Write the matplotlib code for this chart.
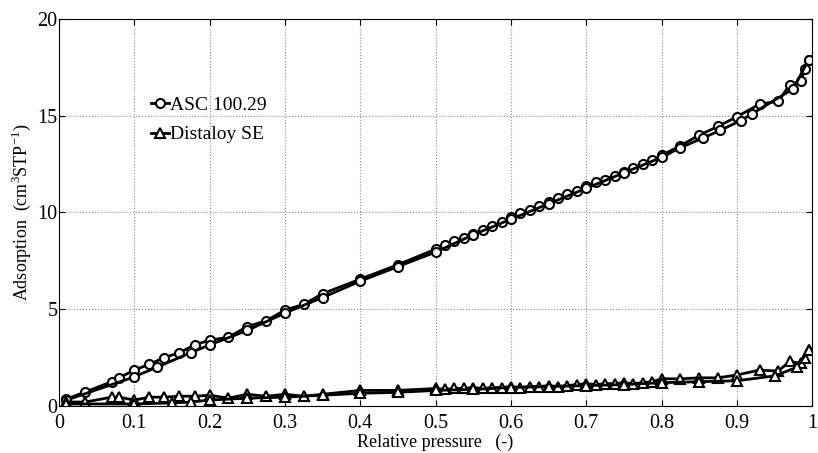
import numpy as np
import matplotlib; matplotlib.use("Agg")
import matplotlib.pyplot as plt
from matplotlib.lines import Line2D

plt.rcParams["font.family"] = ["Liberation Serif", "DejaVu Serif"]
plt.rcParams["mathtext.fontset"] = "custom"
plt.rcParams["mathtext.rm"] = "Liberation Serif"

# ASC 100.29 - adsorption branch (dense) and desorption branch
asc_ads_p = [0.01, 0.035, 0.07, 0.08, 0.10, 0.12, 0.14, 0.16, 0.18, 0.20, 0.225, 0.25, 0.275, 0.30,
             0.325, 0.35, 0.40, 0.45, 0.50, 0.5125, 0.525, 0.5375, 0.55, 0.5625, 0.575, 0.5875, 0.60,
             0.6125, 0.625, 0.6375, 0.65, 0.6625, 0.675, 0.6875, 0.70, 0.7125, 0.725, 0.7375, 0.75,
             0.7625, 0.775, 0.7875, 0.80, 0.825, 0.85, 0.875, 0.90, 0.93, 0.955, 0.97, 0.985, 0.99, 0.995]
asc_ads_v = [0.35, 0.72, 1.25, 1.45, 1.85, 2.15, 2.5, 2.75, 3.15, 3.4, 3.55, 4.1, 4.4, 4.95,
             5.25, 5.8, 6.55, 7.3, 8.1, 8.3, 8.5, 8.7, 8.9, 9.1, 9.3, 9.5, 9.75,
             9.95, 10.15, 10.35, 10.55, 10.75, 10.95, 11.1, 11.35, 11.55, 11.7, 11.9, 12.1,
             12.3, 12.5, 12.7, 12.95, 13.45, 14.0, 14.45, 14.95, 15.6, 15.75, 16.6, 16.8, 17.4, 17.9]
asc_des_p = [0.01, 0.10, 0.13, 0.175, 0.20, 0.25, 0.30, 0.35, 0.40, 0.45, 0.50, 0.55, 0.60, 0.65,
             0.70, 0.75, 0.80, 0.825, 0.855, 0.878, 0.905, 0.92, 0.975, 0.995]
asc_des_v = [0.3, 1.5, 2.0, 2.75, 3.15, 3.9, 4.8, 5.6, 6.45, 7.2, 7.95, 8.85, 9.65, 10.45,
             11.25, 12.05, 12.85, 13.35, 13.85, 14.25, 14.75, 15.1, 16.4, 17.9]

# Distaloy SE
dis_ads_p = asc_ads_p
dis_ads_v = [0.2, 0.2, 0.45, 0.45, 0.3, 0.45, 0.45, 0.5, 0.5, 0.55, 0.4, 0.6, 0.5, 0.6,
             0.5, 0.6, 0.8, 0.8, 0.9, 0.85, 0.9, 0.9, 0.95, 0.9, 0.95, 0.95, 1.0,
             0.95, 1.0, 1.0, 1.05, 1.0, 1.05, 1.1, 1.15, 1.1, 1.15, 1.15, 1.2,
             1.15, 1.2, 1.25, 1.4, 1.4, 1.45, 1.45, 1.6, 1.85, 1.8, 2.3, 2.2, 2.5, 2.9]
dis_des_p = [0.01, 0.10, 0.15, 0.175, 0.20, 0.25, 0.30, 0.35, 0.40, 0.45, 0.50, 0.55, 0.60, 0.65,
             0.70, 0.75, 0.80, 0.85, 0.90, 0.95, 0.98, 0.995]
dis_des_v = [0.1, 0.1, 0.15, 0.2, 0.3, 0.4, 0.45, 0.55, 0.65, 0.7, 0.8, 0.85, 0.95, 1.0,
             1.05, 1.1, 1.2, 1.25, 1.3, 1.55, 2.0, 2.9]

fig = plt.figure(figsize=(8.18, 4.53), dpi=100)
ax = fig.add_axes([0.072, 0.104, 0.921, 0.854])

style = dict(color="black", lw=2.0, mfc="white", mec="black", mew=1.5, ms=6.5)
ax.plot(asc_ads_p, asc_ads_v, marker="o", **style)
ax.plot(asc_des_p, asc_des_v, marker="o", **style)
ax.plot(dis_ads_p, dis_ads_v, marker="^", **style)
ax.plot(dis_des_p, dis_des_v, marker="^", **style)

ax.set_xlim(0, 1); ax.set_ylim(0, 20)
ax.set_xticks(np.arange(0, 1.01, 0.1))
ax.set_xticklabels(["0", "0.1", "0.2", "0.3", "0.4", "0.5", "0.6", "0.7", "0.8", "0.9", "1"])
ax.set_yticks([0, 5, 10, 15, 20])
ax.tick_params(direction="in", labelsize=14.5, length=4, top=True, right=True)
ax.tick_params(axis="x", pad=6)
ax.tick_params(axis="y", pad=1)
ax.grid(True, ls=":", color="0.55", lw=0.8)
ax.set_xlabel("Relative pressure   (-)", fontsize=13, labelpad=0)
ax.set_ylabel("Adsorption  (cm$^3$STP$^{-1}$)", fontsize=13, labelpad=3)

handles = [Line2D([], [], marker="o", **style), Line2D([], [], marker="^", **style)]
ax.legend(handles, ["ASC 100.29", "Distaloy SE"], loc="upper left", bbox_to_anchor=(0.112, 0.82),
          frameon=False, fontsize=14, handlelength=0.9, handletextpad=0.05, labelspacing=0.6,
          borderaxespad=0)

fig.savefig("out.png", dpi=100)
